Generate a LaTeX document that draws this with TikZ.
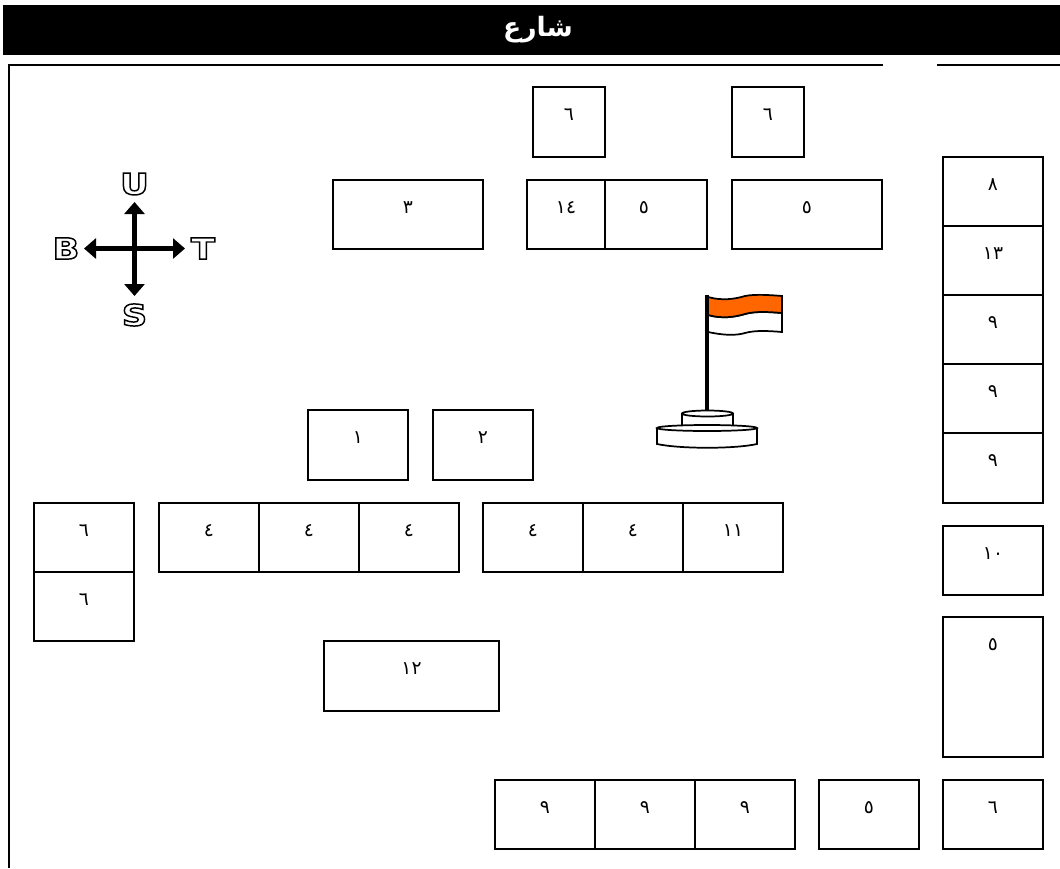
\documentclass[tikz,border=0pt]{standalone}
\usepackage{fontspec}
\usetikzlibrary{arrows.meta}
\setmainfont{Liberation Sans}
\TeXXeTstate=1
\newfontfamily\arabicfont[Script=Arabic]{DejaVu Sans}
\newfontfamily\outlinefont[FakeStretch=1.2]{DejaVu Sans Bold}
\newcommand{\outl}[1]{\special{pdf:code q 2 Tr 1.1 w 0 0 0 RG 1 1 1 rg}#1\special{pdf:code Q}}
\tikzset{
 x=0.75pt,y=-0.75pt,
 plotbox/.style={draw=black,line width=1.1pt,fill=white,rectangle,inner sep=0pt,font=\arabicfont\fontsize{14}{14}\selectfont},
 compass/.style={draw=black,line width=4.4pt,{Stealth[length=9pt,width=15pt,inset=0pt]}-{Stealth[length=9pt,width=15pt,inset=0pt]}},
 letter/.style={inner sep=0pt,text=white,font=\outlinefont\fontsize{22}{22}\selectfont},
 flagline/.style={draw=black,line width=1.3pt},
}
\newcommand{\bx}[6]{%
 \pgfmathsetmacro{\bw}{(#4-#2)*0.75}%
 \pgfmathsetmacro{\bh}{(#5-#3)*0.75}%
 \pgfmathsetmacro{\br}{((#5-#3)/2-33.5)*0.75}%
 \node[plotbox,minimum width=\bw pt,minimum height=\bh pt] (#1) at ({(#2+#4)/2},{(#3+#5)/2}) {\smash{\raisebox{\br pt}{#6}}};}
\begin{document}
\begin{tikzpicture}
\useasboundingbox (0,0) rectangle (1060,868);
\fill[white] (0,0) rectangle (1060,868);
% street
\fill[black] (3,5) rectangle (1060,55);
\node[inner sep=0pt,text=white,font=\arabicfont\bfseries\fontsize{20}{20}\selectfont] (street) at (538,30) {\beginR شارع\endR};
% boundary wall
\coordinate (wa) at (9,868);
\coordinate (wb) at (9,65);
\coordinate (wc) at (883,65);
\coordinate (wd) at (937,65);
\coordinate (we) at (1060,65);
\draw[line width=1.1pt] (wa) -- (wb) -- (wc);
\draw[line width=1.1pt] (wd) -- (we);
% buildings
\bx{a1}{533}{87}{605}{157}{٦}
\bx{a2}{732}{87}{804}{157}{٦}
\bx{b1}{333}{180}{483}{249}{٣}
\bx{b2}{527}{180}{605}{249}{١٤}
\bx{b3}{605}{180}{707}{249}{\makebox[0pt][c]{\hspace{-18pt}٥}}
\bx{b4}{732}{180}{882}{249}{٥}
\bx{c1}{943}{157}{1043}{226}{٨}
\bx{c2}{943}{226}{1043}{295}{١٣}
\bx{c3}{943}{295}{1043}{364}{٩}
\bx{c4}{943}{364}{1043}{433}{٩}
\bx{c5}{943}{433}{1043}{503}{٩}
\bx{c6}{943}{526}{1043}{595}{١٠}
\bx{c7}{943}{617}{1043}{757}{٥}
\bx{c8}{943}{780}{1043}{849}{٦}
\bx{d1}{308}{410}{408}{480}{١}
\bx{d2}{433}{410}{533}{480}{٢}
\bx{e1}{34}{503}{134}{572}{٦}
\bx{e2}{34}{572}{134}{641}{٦}
\bx{e3}{159}{503}{259}{572}{٤}
\bx{e4}{259}{503}{359}{572}{٤}
\bx{e5}{359}{503}{459}{572}{٤}
\bx{e6}{483}{503}{583}{572}{٤}
\bx{e7}{583}{503}{683}{572}{٤}
\bx{e8}{683}{503}{783}{572}{١١}
\bx{f1}{324}{641}{499}{711}{١٢}
\bx{g1}{495}{780}{595}{849}{٩}
\bx{g2}{595}{780}{695}{849}{٩}
\bx{g3}{695}{780}{795}{849}{٩}
\bx{g4}{819}{780}{919}{849}{٥}
% compass
\node[letter] (U) at (134.5,184) {\outl{U}};
\node[letter] (B) at (66,248.5) {\outl{B}};
\node[letter] (T) at (203,248.5) {\outl{T}};
\node[letter] (S) at (134.5,315) {\outl{S}};
\coordinate (cn) at (134.5,202);
\coordinate (cs) at (134.5,296);
\coordinate (cw) at (84,248.5);
\coordinate (ce) at (185,248.5);
\draw[compass] (cn) -- (cs);
\draw[compass] (cw) -- (ce);
% flag
\draw[flagline,fill=white] (708,315) .. controls (722,319) and (735,317) .. (745,314) .. controls (755,311) and (770,312) .. (782,313) -- (782,332) .. controls (770,331) and (755,330) .. (745,333) .. controls (735,336) and (722,335) .. (708,332) -- cycle;
\draw[flagline,fill={rgb,255:red,255;green,102;blue,0}] (708,297) .. controls (722,301) and (735,299) .. (745,296) .. controls (755,294) and (770,295) .. (782,296) -- (782,313) .. controls (770,312) and (755,311) .. (745,314) .. controls (735,317) and (722,319) .. (708,315) -- cycle;
\draw[line width=2.6pt] (707,295) -- (707,411);
% base
\draw[flagline,fill=white] (682,413) -- (682,428) -- (733,428) -- (733,413);
\draw[flagline,fill=white] (707.5,413.5) ellipse [x radius=25.5,y radius=3];
\draw[flagline,fill=white] (657,428) -- (657,444) .. controls (680,449) and (735,449) .. (757,444) -- (757,428);
\draw[flagline,fill=white] (707,428) ellipse [x radius=50,y radius=3];
\end{tikzpicture}
\end{document}
